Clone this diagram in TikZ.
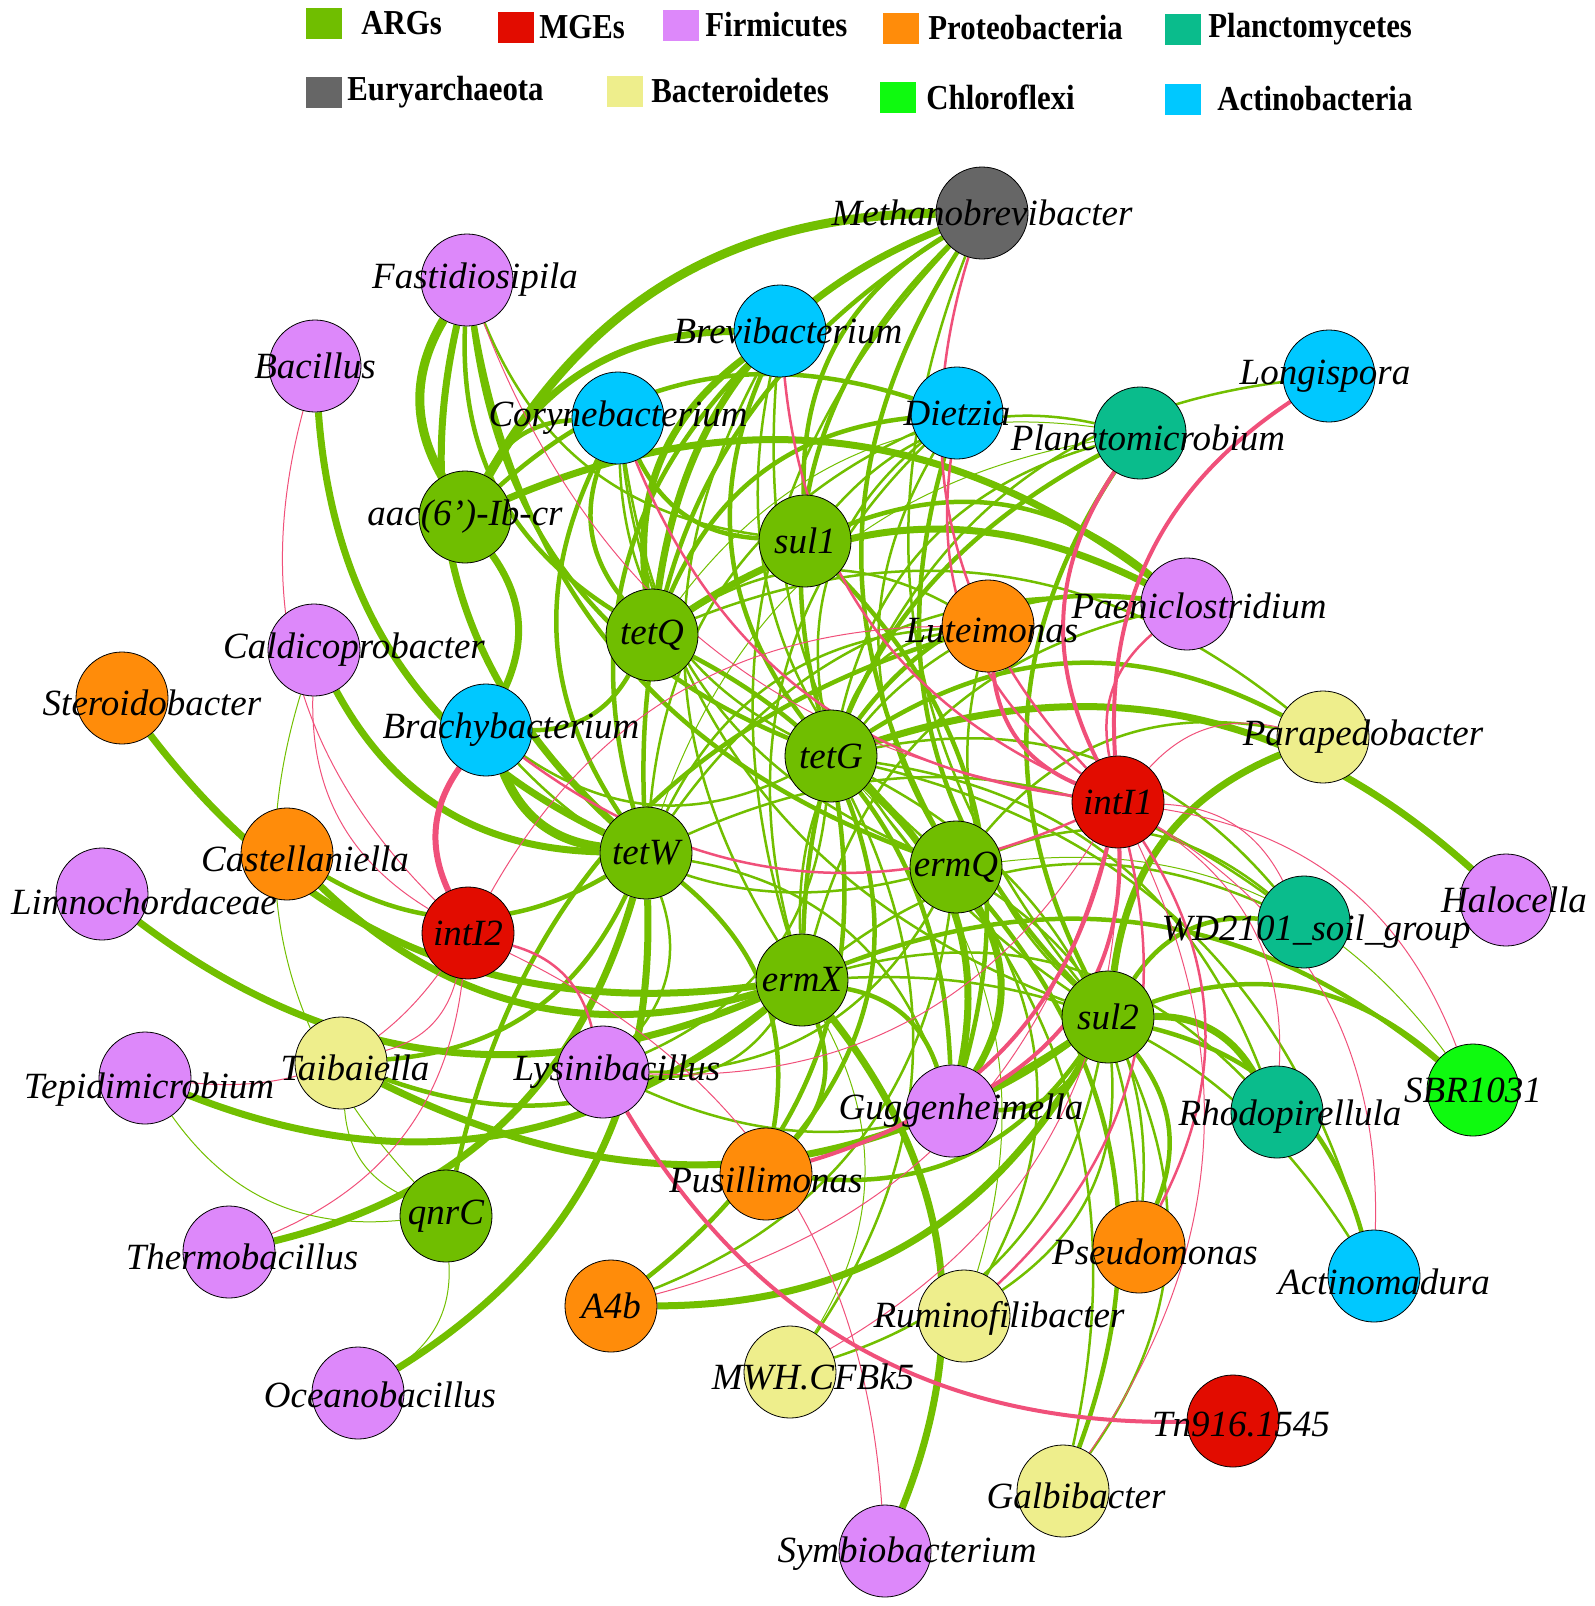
\documentclass[tikz,border=0pt]{standalone}
\usepackage{fontspec}
\setmainfont{Liberation Serif}
\newfontfamily\legfont{Liberation Serif}[FakeStretch=0.88]
\usetikzlibrary{positioning,backgrounds}

\definecolor{argfill}{RGB}{112,190,0}
\definecolor{mgefill}{RGB}{226,12,0}
\definecolor{firmfill}{RGB}{221,136,250}
\definecolor{protfill}{RGB}{255,140,10}
\definecolor{planfill}{RGB}{10,188,140}
\definecolor{euryfill}{RGB}{102,102,102}
\definecolor{bactfill}{RGB}{238,238,140}
\definecolor{chlofill}{RGB}{15,250,15}
\definecolor{actifill}{RGB}{0,200,255}
\definecolor{greenline}{RGB}{114,191,0}
\definecolor{pinkline}{RGB}{240,80,122}

\tikzset{
	gnode/.style = {circle, draw=black, line width=0.8pt, minimum size=92pt, inner sep=0pt},
	arg/.style   = {gnode, fill=argfill},
	mge/.style   = {gnode, fill=mgefill},
	firm/.style  = {gnode, fill=firmfill},
	prot/.style  = {gnode, fill=protfill},
	plan/.style  = {gnode, fill=planfill},
	eury/.style  = {gnode, fill=euryfill},
	bact/.style  = {gnode, fill=bactfill},
	chlo/.style  = {gnode, fill=chlofill},
	acti/.style  = {gnode, fill=actifill},
	lbl/.style   = {font=\fontsize{37}{40}\selectfont\itshape, inner sep=0pt},
	legsq/.style = {minimum width=36pt, minimum height=31pt, inner sep=0pt},
	legtxt/.style= {font=\legfont\fontsize{35}{38}\selectfont\bfseries, inner sep=0pt, anchor=west},
	gA/.style = {draw=greenline, line width=1pt, bend left=30},
	gB/.style = {draw=greenline, line width=2.5pt, bend left=30},
	gC/.style = {draw=greenline, line width=4.5pt, bend left=30},
	gD/.style = {draw=greenline, line width=7pt, bend left=30},
	gE/.style = {draw=greenline, line width=9pt, bend left=30},
	pA/.style = {draw=pinkline, line width=1pt, bend left=30},
	pB/.style = {draw=pinkline, line width=2.5pt, bend left=30},
	pC/.style = {draw=pinkline, line width=4pt, bend left=30},
	pD/.style = {draw=pinkline, line width=6pt, bend left=30}
}

\begin{document}
\begin{tikzpicture}[x=1pt, y=1pt]
	\useasboundingbox (0,0) rectangle (1595,-1606);

	% legend
	\node (sqARG) at ( 324, -23) [legsq, fill=argfill]  {};
	\node (sqMGE) at ( 516, -27) [legsq, fill=mgefill]  {};
	\node (sqFir) at ( 681, -25) [legsq, fill=firmfill] {};
	\node (sqPro) at ( 901, -28) [legsq, fill=protfill] {};
	\node (sqPla) at (1183, -29) [legsq, fill=planfill] {};
	\node (sqEur) at ( 324, -92) [legsq, fill=euryfill] {};
	\node (sqBac) at ( 625, -91) [legsq, fill=bactfill] {};
	\node (sqChl) at ( 898, -97) [legsq, fill=chlofill] {};
	\node (sqAct) at (1183, -99) [legsq, fill=actifill] {};
	\node[legtxt, right=19pt of sqARG] {ARGs};
	\node[legtxt, right=5pt of sqMGE]  {MGEs};
	\node[legtxt, right=6pt of sqFir]  {Firmicutes};
	\node[legtxt, right=9pt of sqPro]  {Proteobacteria};
	\node[legtxt, right=7pt of sqPla]  {Planctomycetes};
	\node[legtxt, right=5pt of sqEur]  {Euryarchaeota};
	\node[legtxt, right=8pt of sqBac]  {Bacteroidetes};
	\node[legtxt, right=10pt of sqChl] {Chloroflexi};
	\node[legtxt, right=16pt of sqAct] {Actinobacteria};

	% nodes
	\node (Metha)  at ( 982, -213) [eury] {};
	\node (Fasti)  at ( 467, -280) [firm] {};
	\node (Bacil)  at ( 315, -366) [firm] {};
	\node (Brevi)  at ( 780, -331) [acti] {};
	\node (Coryn)  at ( 618, -418) [acti] {};
	\node (Dietz)  at ( 957, -413) [acti] {};
	\node (Longi)  at (1329, -376) [acti] {};
	\node (Planc)  at (1140, -433) [plan] {};
	\node (aac)    at ( 465, -517) [arg]  {};
	\node (sul1)   at ( 805, -541) [arg]  {};
	\node (tetQ)   at ( 652, -635) [arg]  {};
	\node (Paeni)  at (1187, -604) [firm] {};
	\node (Lutei)  at ( 988, -626) [prot] {};
	\node (Caldi)  at ( 314, -650) [firm] {};
	\node (Stero)  at ( 122, -698) [prot] {};
	\node (Brach)  at ( 486, -730) [acti] {};
	\node (tetG)   at ( 831, -756) [arg]  {};
	\node (Parap)  at (1323, -737) [bact] {};
	\node (intI1)  at (1118, -802) [mge]  {};
	\node (tetW)   at ( 646, -853) [arg]  {};
	\node (ermQ)   at ( 956, -867) [arg]  {};
	\node (Caste)  at ( 287, -854) [prot] {};
	\node (Limno)  at ( 102, -894) [firm] {};
	\node (intI2)  at ( 468, -933) [mge]  {};
	\node (Haloc)  at (1506, -900) [firm] {};
	\node (WD)     at (1304, -922) [plan] {};
	\node (ermX)   at ( 802, -980) [arg]  {};
	\node (sul2)   at (1108,-1017) [arg]  {};
	\node (SBR)    at (1473,-1090) [chlo] {};
	\node (Tepid)  at ( 145,-1078) [firm] {};
	\node (Taiba)  at ( 341,-1063) [bact] {};
	\node (Lysin)  at ( 603,-1072) [firm] {};
	\node (Guggen) at ( 952,-1111) [firm] {};
	\node (Rhodo)  at (1277,-1112) [plan] {};
	\node (Pusil)  at ( 766,-1174) [prot] {};
	\node (qnrC)   at ( 446,-1216) [arg]  {};
	\node (Therm)  at ( 229,-1252) [firm] {};
	\node (Pseud)  at (1139,-1247) [prot] {};
	\node (Actin)  at (1374,-1276) [acti] {};
	\node (A4b)    at ( 611,-1306) [prot] {};
	\node (Rumin)  at ( 964,-1316) [bact] {};
	\node (MWH)    at ( 790,-1372) [bact] {};
	\node (Ocean)  at ( 358,-1393) [firm] {};
	\node (Tn916)  at (1233,-1421) [mge]  {};
	\node (Galbi)  at (1063,-1491) [bact] {};
	\node (Symbi)  at ( 885,-1551) [firm] {};

	% labels
	\node[lbl] at (Metha) {Methanobrevibacter};
	\node[lbl] at ([xshift=8pt]Fasti) {Fastidiosipila};
	\node[lbl] at (Bacil) {Bacillus};
	\node[lbl] at ([xshift=8pt]Brevi) {Brevibacterium};
	\node[lbl] at (Coryn) {Corynebacterium};
	\node[lbl] at (Dietz) {Dietzia};
	\node[lbl] at ([xshift=-4pt]Longi) {Longispora};
	\node[lbl] at ([shift={(8pt,-5pt)}]Planc) {Planctomicrobium};
	\node[lbl] at (aac) {aac(6')-Ib-cr};
	\node[lbl] at (sul1) {sul1};
	\node[lbl] at (tetQ) {tetQ};
	\node[lbl] at ([shift={(12pt,-2pt)}]Paeni) {Paeniclostridium};
	\node[lbl] at ([shift={(4pt,-4pt)}]Lutei) {Luteimonas};
	\node[lbl] at ([xshift=40pt]Caldi) {Caldicoprobacter};
	\node[lbl] at ([shift={(30pt,-5pt)}]Stero) {Steroidobacter};
	\node[lbl] at ([xshift=25pt]Brach) {Brachybacterium};
	\node[lbl] at (tetG) {tetG};
	\node[lbl] at ([xshift=40pt]Parap) {Parapedobacter};
	\node[lbl] at (intI1) {intI1};
	\node[lbl] at (tetW) {tetW};
	\node[lbl] at (ermQ) {ermQ};
	\node[lbl] at ([shift={(18pt,-5pt)}]Caste) {Castellaniella};
	\node[lbl] at ([shift={(42pt,-8pt)}]Limno) {Limnochordaceae};
	\node[lbl] at (intI2) {intI2};
	\node[lbl] at ([xshift=8pt]Haloc) {Halocella};
	\node[lbl] at ([shift={(12pt,-10pt)}]WD) {WD2101\_soil\_group};
	\node[lbl] at (ermX) {ermX};
	\node[lbl] at (sul2) {sul2};
	\node[lbl] at (SBR) {SBR1031};
	\node[lbl] at ([shift={(4pt,-12pt)}]Tepid) {Tepidimicrobium};
	\node[lbl] at ([shift={(14pt,-5pt)}]Taiba) {Taibaiella};
	\node[lbl] at ([xshift=14pt]Lysin) {Lysinibacillus};
	\node[lbl] at ([xshift=9pt]Guggen) {Guggenheimella};
	\node[lbl] at ([shift={(13pt,-5pt)}]Rhodo) {Rhodopirellula};
	\node[lbl] at ([yshift=-6pt]Pusil) {Pusillimonas};
	\node[lbl] at (qnrC) {qnrC};
	\node[lbl] at ([shift={(13pt,-5pt)}]Therm) {Thermobacillus};
	\node[lbl] at ([shift={(16pt,-5pt)}]Pseud) {Pseudomonas};
	\node[lbl] at ([shift={(10pt,-6pt)}]Actin) {Actinomadura};
	\node[lbl] at (A4b) {A4b};
	\node[lbl] at ([shift={(35pt,-2pt)}]Rumin) {Ruminofilibacter};
	\node[lbl] at ([shift={(23pt,-5pt)}]MWH) {MWH.CFBk5};
	\node[lbl] at ([shift={(22pt,-2pt)}]Ocean) {Oceanobacillus};
	\node[lbl] at ([shift={(8pt,-3pt)}]Tn916) {Tn916.1545};
	\node[lbl] at ([shift={(13pt,-5pt)}]Galbi) {Galbibacter};
	\node[lbl] at ([shift={(22pt,-3pt)}]Symbi) {Symbiobacterium};

	% links ARGs - genera
	\begin{scope}[on background layer]
	\draw[gE] (aac) to (Metha);
	\draw[gD] (tetQ) to (Metha);
	\draw[gC] (tetW) to (Metha);
	\draw[gC] (sul1) to (Metha);
	\draw[gC] (tetG) to (Metha);
	\draw[gC] (ermQ) to (Metha);
	\draw[gB] (ermX) to (Metha);
	\draw[gB] (sul2) to (Metha);
	\draw[gE] (aac) to (Fasti);
	\draw[gD] (tetW) to (Fasti);
	\draw[gC] (tetQ) to (Fasti);
	\draw[gC] (tetG) to (Fasti);
	\draw[gB] (sul1) to (Fasti);
	\draw[gC] (ermQ) to (Fasti);
	\draw[gD] (tetW) to (Bacil);
	\draw[gD] (aac) to (Brevi);
	\draw[gD] (tetQ) to (Brevi);
	\draw[gC] (tetW) to (Brevi);
	\draw[gC] (tetG) to (Brevi);
	\draw[gB] (ermX) to (Brevi);
	\draw[gB] (sul2) to (Brevi);
	\draw[gB] (ermQ) to (Brevi);
	\draw[gC] (aac) to (Coryn);
	\draw[gC] (tetQ) to (Coryn);
	\draw[gC] (sul1) to (Coryn);
	\draw[gC] (tetW) to (Coryn);
	\draw[gB] (tetG) to (Coryn);
	\draw[gB] (ermQ) to (Coryn);
	\draw[gB] (sul2) to (Coryn);
	\draw[gC] (aac) to (Dietz);
	\draw[gC] (tetQ) to (Dietz);
	\draw[gB] (tetW) to (Dietz);
	\draw[gB] (tetG) to (Dietz);
	\draw[gB] (ermX) to (Dietz);
	\draw[gC] (sul2) to (Dietz);
	\draw[gB] (ermQ) to (Dietz);
	\draw[gB] (tetG) to (Longi);
	\draw[gA] (tetQ) to (Planc);
	\draw[gA] (tetW) to (Planc);
	\draw[gB] (tetG) to (Planc);
	\draw[gB] (sul1) to (Planc);
	\draw[gC] (ermX) to (Planc);
	\draw[gC] (sul2) to (Planc);
	\draw[gD] (aac) to (Paeni);
	\draw[gD] (tetQ) to (Paeni);
	\draw[gC] (sul1) to (Paeni);
	\draw[gB] (tetW) to (Paeni);
	\draw[gC] (tetG) to (Paeni);
	\draw[gB] (ermX) to (Paeni);
	\draw[gB] (tetQ) to (Lutei);
	\draw[gB] (tetW) to (Lutei);
	\draw[gB] (tetG) to (Lutei);
	\draw[gB] (ermX) to (Lutei);
	\draw[gB] (sul2) to (Lutei);
	\draw[gC] (qnrC) to (Lutei);
	\draw[gD] (tetW) to (Caldi);
	\draw[gA] (qnrC) to (Caldi);
	\draw[gD] (ermX) to (Stero);
	\draw[gD] (aac) to (Brach);
	\draw[gE] (tetW) to (Brach);
	\draw[gC] (tetQ) to (Brach);
	\draw[gB] (tetG) to (Brach);
	\draw[gB] (ermQ) to (Brach);
	\draw[gB] (tetQ) to (Parap);
	\draw[gC] (tetG) to (Parap);
	\draw[gD] (sul2) to (Parap);
	\draw[gB] (ermQ) to (Parap);
	\draw[gD] (ermX) to (Caste);
	\draw[gC] (tetW) to (Caste);
	\draw[gD] (ermX) to (Limno);
	\draw[gD] (tetG) to (Haloc);
	\draw[gB] (tetG) to (WD);
	\draw[gB] (tetW) to (WD);
	\draw[gB] (ermQ) to (WD);
	\draw[gC] (sul2) to (WD);
	\draw[gB] (ermX) to (WD);
	\draw[gD] (ermX) to (Tepid);
	\draw[gA] (qnrC) to (Tepid);
	\draw[gC] (ermX) to (Taiba);
	\draw[gC] (tetW) to (Taiba);
	\draw[gD] (sul2) to (Taiba);
	\draw[gA] (qnrC) to (Taiba);
	\draw[gB] (tetW) to (Lysin);
	\draw[gB] (tetG) to (Lysin);
	\draw[gB] (ermX) to (Lysin);
	\draw[gB] (sul2) to (Lysin);
	\draw[gB] (ermQ) to (Lysin);
	\draw[gD] (tetG) to (Guggen);
	\draw[gC] (tetQ) to (Guggen);
	\draw[gD] (ermQ) to (Guggen);
	\draw[gC] (sul1) to (Guggen);
	\draw[gC] (ermX) to (Guggen);
	\draw[gC] (sul2) to (Guggen);
	\draw[gB] (tetW) to (Guggen);
	\draw[gD] (sul2) to (Rhodo);
	\draw[gB] (ermX) to (Rhodo);
	\draw[gB] (tetG) to (Rhodo);
	\draw[gC] (ermX) to (SBR);
	\draw[gC] (sul2) to (SBR);
	\draw[gA] (ermQ) to (SBR);
	\draw[gC] (tetW) to (Pusil);
	\draw[gC] (tetG) to (Pusil);
	\draw[gC] (ermX) to (Pusil);
	\draw[gC] (sul2) to (Pusil);
	\draw[gD] (tetW) to (Therm);
	\draw[gC] (sul2) to (Pseud);
	\draw[gB] (tetG) to (Pseud);
	\draw[gB] (ermQ) to (Pseud);
	\draw[gC] (sul2) to (Actin);
	\draw[gB] (ermX) to (Actin);
	\draw[gB] (tetG) to (Actin);
	\draw[gD] (sul2) to (A4b);
	\draw[gC] (tetG) to (A4b);
	\draw[gB] (ermQ) to (A4b);
	\draw[gB] (sul2) to (Rumin);
	\draw[gB] (ermQ) to (Rumin);
	\draw[gA] (tetG) to (Rumin);
	\draw[gB] (sul2) to (MWH);
	\draw[gB] (tetG) to (MWH);
	\draw[gA] (ermX) to (MWH);
	\draw[gD] (tetW) to (Ocean);
	\draw[gA] (qnrC) to (Ocean);
	\draw[gB] (sul2) to (Galbi);
	\draw[gC] (ermQ) to (Galbi);
	\draw[gB] (tetG) to (Galbi);
	\draw[gD] (ermX) to (Symbi);
	% links MGEs - genera
	\draw[pB] (intI1) to (Metha);
	\draw[pA] (intI1) to (Fasti);
	\draw[pB] (intI1) to (Brevi);
	\draw[pB] (intI1) to (Coryn);
	\draw[pB] (intI1) to (Dietz);
	\draw[pC] (intI1) to (Longi);
	\draw[pC] (intI1) to (Planc);
	\draw[pB] (intI1) to (Paeni);
	\draw[pC] (intI1) to (Lutei);
	\draw[pB] (intI1) to (Brach);
	\draw[pA] (intI1) to (Parap);
	\draw[pA] (intI1) to (WD);
	\draw[pA] (intI1) to (Lysin);
	\draw[pC] (intI1) to (Guggen);
	\draw[pA] (intI1) to (Rhodo);
	\draw[pA] (intI1) to (SBR);
	\draw[pC] (intI1) to (Pusil);
	\draw[pB] (intI1) to (Pseud);
	\draw[pA] (intI1) to (Actin);
	\draw[pA] (intI1) to (A4b);
	\draw[pB] (intI1) to (Rumin);
	\draw[pA] (intI1) to (MWH);
	\draw[pA] (intI1) to (Galbi);
	\draw[pA] (intI2) to (Bacil);
	\draw[pA] (intI2) to (Lutei);
	\draw[pA] (intI2) to (Caldi);
	\draw[pD] (intI2) to (Brach);
	\draw[pA] (intI2) to (Tepid);
	\draw[pA] (intI2) to (Taiba);
	\draw[pB] (intI2) to (Lysin);
	\draw[pA] (intI2) to (Therm);
	\draw[pA] (intI2) to (Symbi);
	\draw[pC] (Tn916) to (Lysin);
	\end{scope}
\end{tikzpicture}
\end{document}
